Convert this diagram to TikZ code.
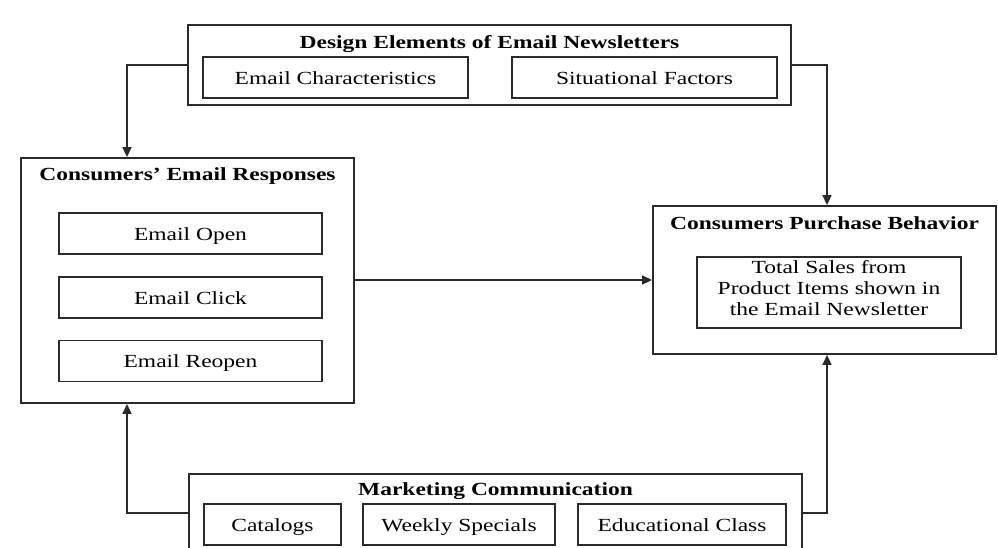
\documentclass[tikz,border=0pt]{standalone}
\usepackage{fontspec}
\setmainfont{Liberation Serif}[FakeStretch=1.27]
\usetikzlibrary{arrows.meta}
\definecolor{ink}{HTML}{2A2A2A}
\begin{document}
\begin{tikzpicture}[x=1pt,y=-1pt,
  every node/.style={font=\fontsize{18.5}{21}\selectfont, text=black},
  outerbox/.style={draw=ink, line width=1.8pt, inner sep=0pt},
  innerbox/.style={draw=ink, line width=1.7pt, inner sep=0pt,
    text height=15pt, text depth=2pt},
  heading/.style={anchor=base, font=\fontsize{18.5}{21}\selectfont\bfseries},
  link/.style={draw=ink, line width=1.5pt, -{Triangle[length=10pt,width=9pt]}}
]
\clip (0,0) rectangle (998,547);
\fill[white] (0,0) rectangle (998,547);

% Design elements (top)
\node[outerbox, minimum width=603pt, minimum height=80pt] (design) at (489.5,65) {};
\node[heading] (designT) at (489.5,48) {Design Elements of Email Newsletters};
\node[innerbox, minimum width=265pt, minimum height=41pt] (charac) at (335.5,77.5) {Email Characteristics};
\node[innerbox, minimum width=265pt, minimum height=41pt] (situ) at (644.5,77.5) {Situational Factors};

% Consumers' email responses (left)
\node[outerbox, minimum width=333pt, minimum height=245pt] (resp) at (187.5,280.5) {};
\node[heading] (respT) at (187.5,180) {Consumers’ Email Responses};
\node[innerbox, minimum width=263pt, minimum height=41pt] (open) at (190.5,233.5) {Email Open};
\node[innerbox, minimum width=263pt, minimum height=41pt] (click) at (190.5,297.5) {Email Click};
\node[innerbox, minimum width=263pt, minimum height=41pt] (reopen) at (190.5,361) {Email Reopen};

% Purchase behaviour (right)
\node[outerbox, minimum width=343pt, minimum height=148pt] (purch) at (824.5,280) {};
\node[heading] (purchT) at (824.5,229) {Consumers Purchase Behavior};
\node[draw=ink, line width=1.7pt, inner sep=0pt, minimum width=264pt, minimum height=71pt] (sales) at (829,292.5) {};
\node[align=center, inner sep=0pt] (salesT) at (829,288) {Total Sales from\\Product Items shown in\\the Email Newsletter};

% Marketing communication (bottom)
\node[outerbox, minimum width=613pt, minimum height=100pt] (mkt) at (495.5,524) {};
\node[heading] (mktT) at (495.5,495) {Marketing Communication};
\node[innerbox, minimum width=137pt, minimum height=41pt] (cat) at (272.5,524.5) {Catalogs};
\node[innerbox, minimum width=192pt, minimum height=41pt] (weekly) at (459,524.5) {Weekly Specials};
\node[innerbox, minimum width=208pt, minimum height=41pt] (edu) at (682,524.5) {Educational Class};

% Connector columns
\coordinate (lcol) at (127,0);
\coordinate (rcol) at (827,0);
\coordinate (brow) at (0,513);

\draw[link] (design.west) -| (lcol |- resp.north);
\draw[link] (design.east) -| (rcol |- purch.north);
\draw[link] (resp.east |- purch.west) -- (purch.west);
\draw[link] (mkt.west |- brow) -| (lcol |- resp.south);
\draw[link] (mkt.east |- brow) -| (rcol |- purch.south);
\end{tikzpicture}
\end{document}
